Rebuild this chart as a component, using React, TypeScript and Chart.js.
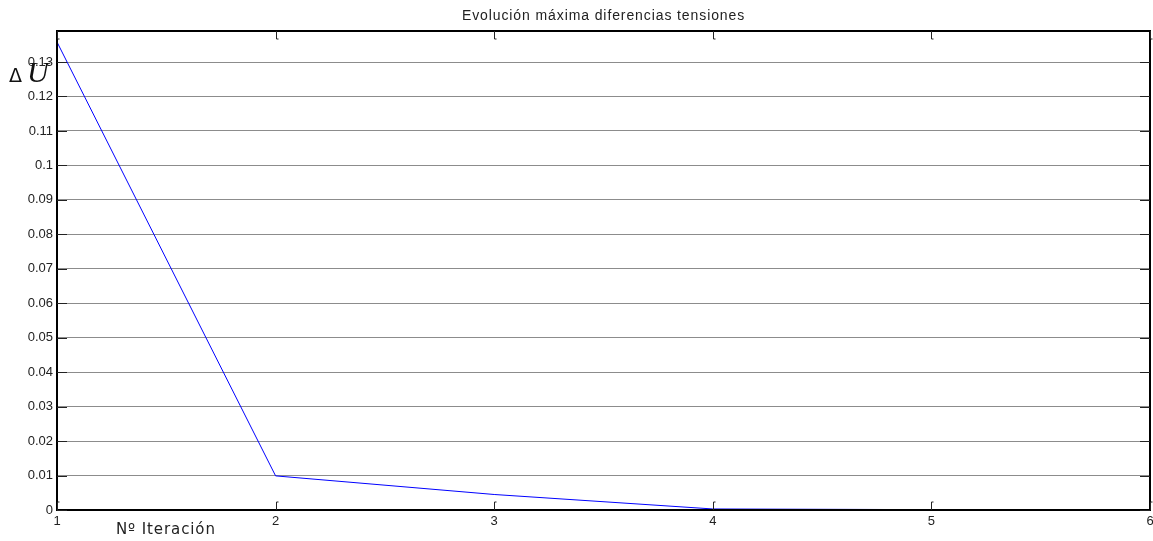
import React, { useEffect, useRef } from "react";
import { Chart, registerables } from "chart.js";

Chart.register(...registerables);

const iterations = [1, 2, 3, 4, 5, 6];
const maxDiff = [0.1358, 0.0099, 0.0045, 0.0003, 0.0001, 0.00005];
const yMin = 0;
const yMax = 0.139;
const yStep = 0.01;
const chartTitle = "Evolución máxima diferencias tensiones";
const xAxisTitle = "Nº Iteración";
const yAxisDelta = "Δ";
const yAxisSymbol = "U";

const framePlugin = {
  id: "framePlugin",
  afterDraw(chart: any) {
    const ctx = chart.ctx;
    const { left, right, top, bottom } = chart.chartArea;
    const xs = chart.scales.x;
    const ys = chart.scales.y;
    ctx.save();
    // frame
    ctx.strokeStyle = "#000";
    ctx.lineWidth = 2;
    ctx.beginPath();
    ctx.moveTo(left, top);
    ctx.lineTo(right, top);
    ctx.lineTo(right, bottom);
    ctx.lineTo(left, bottom);
    ctx.closePath();
    ctx.stroke();
    // inward ticks
    ctx.lineWidth = 1;
    ctx.strokeStyle = "#222";
    ys.ticks.forEach((t: any) => {
      const y = Math.round(ys.getPixelForValue(t.value)) + 0.5;
      ctx.beginPath();
      ctx.moveTo(left, y);
      ctx.lineTo(left + 10, y);
      ctx.moveTo(right - 10, y);
      ctx.lineTo(right, y);
      ctx.stroke();
    });
    xs.ticks.forEach((t: any) => {
      const x = Math.round(xs.getPixelForValue(t.value)) + 0.5;
      ctx.beginPath();
      ctx.moveTo(x + 2, bottom - 8);
      ctx.lineTo(x, bottom - 8);
      ctx.lineTo(x, bottom);
      ctx.moveTo(x, top);
      ctx.lineTo(x, top + 8);
      ctx.lineTo(x + 2, top + 8);
      ctx.stroke();
    });
    // title
    ctx.fillStyle = "#222";
    ctx.font = "14px 'Liberation Sans', Arial, sans-serif";
    (ctx as any).letterSpacing = "0.9px";
    ctx.textAlign = "center";
    ctx.textBaseline = "alphabetic";
    ctx.fillText(chartTitle, (left + right) / 2, 20);
    // x axis title
    ctx.font = "15px 'DejaVu Sans', sans-serif";
    (ctx as any).letterSpacing = "0.9px";
    ctx.textAlign = "left";
    ctx.fillText(xAxisTitle, 116, 534);
    (ctx as any).letterSpacing = "0px";
    // y axis symbol
    ctx.fillStyle = "#111";
    ctx.font = "19px 'DejaVu Sans', sans-serif";
    ctx.fillText(yAxisDelta, 9, 82);
    ctx.font = "italic 30px 'Liberation Serif', serif";
    ctx.fillText(yAxisSymbol, 27, 82);
    ctx.restore();
  },
};

export default function App() {
  const ref = useRef<HTMLCanvasElement | null>(null);
  useEffect(() => {
    if (!ref.current) return;
    const chart = new Chart(ref.current, {
      type: "line",
      data: {
        datasets: [
          {
            data: iterations.map((x, i) => ({ x, y: maxDiff[i] })),
            borderColor: "#0000ff",
            borderWidth: 1,
            pointRadius: 0,
            fill: false,
            tension: 0,
          },
        ],
      },
      options: {
        responsive: false,
        animation: false,
        layout: { padding: { top: 31, left: 0, right: 3, bottom: 0 } },
        plugins: { legend: { display: false }, title: { display: false }, tooltip: { enabled: false } },
        scales: {
          x: {
            type: "linear",
            min: 1,
            max: 6,
            afterFit: (s: any) => {
              s.height = 31;
              s.paddingLeft = 0;
              s.paddingRight = 0;
            },
            grid: { display: false, drawTicks: false },
            border: { display: true, color: "#000", width: 2 },
            ticks: {
              stepSize: 1,
              padding: 4,
              color: "#222",
              font: { family: "'Liberation Sans', Arial, sans-serif", size: 13 },
              maxRotation: 0,
              callback: (v: any) => (Number.isInteger(v) ? String(v) : ""),
            },
          },
          y: {
            type: "linear",
            min: yMin,
            max: yMax,
            afterFit: (s: any) => {
              s.width = 57;
              s.paddingTop = 0;
              s.paddingBottom = 0;
            },
            grid: { color: "#8c8c8c", lineWidth: 1, drawTicks: false },
            border: { display: true, color: "#000", width: 2 },
            ticks: {
              stepSize: yStep,
              includeBounds: false,
              padding: 4,
              color: "#222",
              font: { family: "'Liberation Sans', Arial, sans-serif", size: 13 },
              callback: (v: any) => String(parseFloat(Number(v).toFixed(2))),
            },
          },
        },
      },
      plugins: [framePlugin],
    } as any);
    return () => chart.destroy();
  }, []);
  return (
    <div style={{ position: "absolute", left: 0, top: 0, width: 1153, height: 541, background: "#fff" }}>
      <canvas ref={ref} width={1153} height={541} />
    </div>
  );
}
